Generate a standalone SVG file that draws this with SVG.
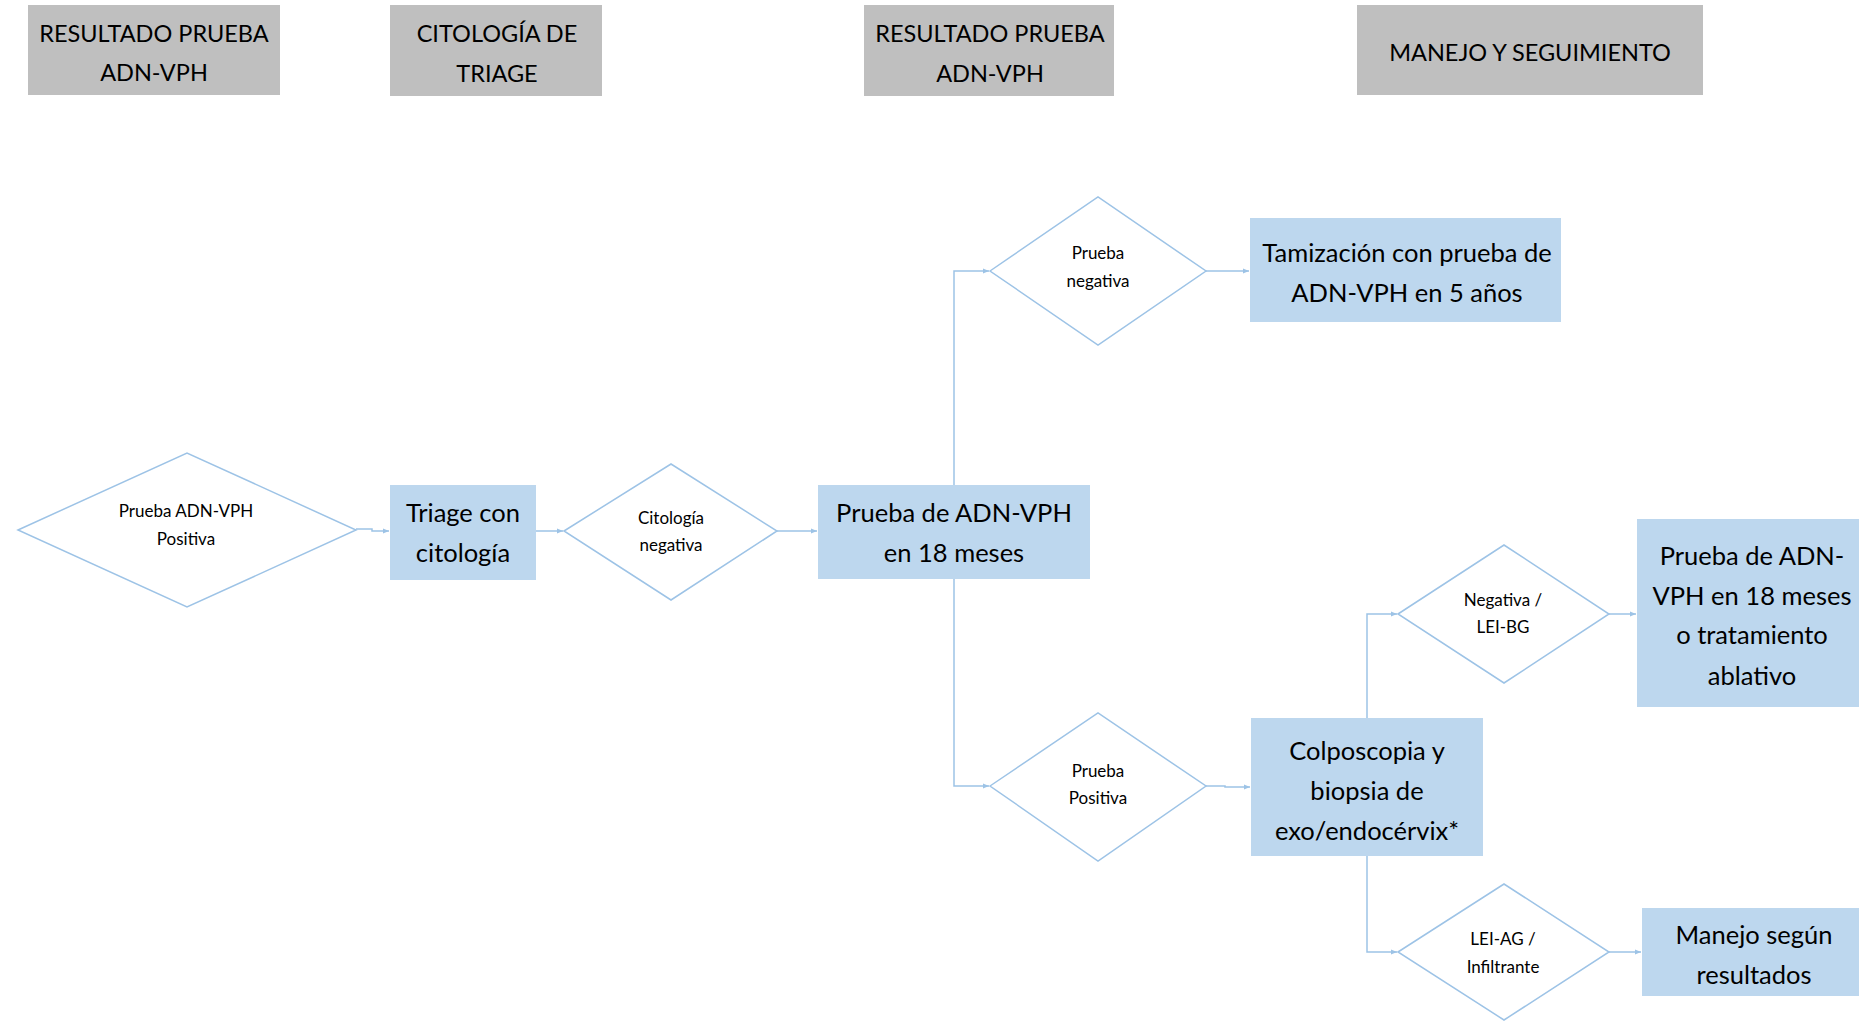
<svg xmlns="http://www.w3.org/2000/svg" width="1859" height="1021" viewBox="0 0 1859 1021">
<style>
.hdr{fill:#BFBFBF}
.box{fill:#BDD7EE}
.dia{fill:#FFFFFF;stroke:#9DC3E6;stroke-width:1.5}
.con{fill:none;stroke:#9DC3E6;stroke-width:1.5}
text{font-family:Lato,"Open Sans","Liberation Sans",sans-serif;fill:#000;text-anchor:middle}
.ht{font-size:23.5px}
.bt{font-size:25.5px}
.dt{font-size:17px}
</style>
<defs>
<marker id="ah" viewBox="0 0 10 10" refX="10" refY="5" markerWidth="6" markerHeight="6" orient="auto" markerUnits="userSpaceOnUse">
<path d="M0,1 L10,5 L0,9 z" fill="#9DC3E6"/>
</marker>
</defs>
<rect width="1859" height="1021" fill="#FFFFFF"/>

<g id="h1"><rect class="hdr" x="28" y="5" width="252" height="90"/><text class="ht" x="154" y="42">RESULTADO PRUEBA</text><text class="ht" x="154" y="81">ADN-VPH</text></g>
<g id="h2"><rect class="hdr" x="390" y="5" width="212" height="91"/><text class="ht" x="497" y="42">CITOLOGÍA DE</text><text class="ht" x="497" y="82">TRIAGE</text></g>
<g id="h3"><rect class="hdr" x="864" y="5" width="250" height="91"/><text class="ht" x="990" y="42">RESULTADO PRUEBA</text><text class="ht" x="990" y="82">ADN-VPH</text></g>
<g id="h4"><rect class="hdr" x="1357" y="5" width="346" height="90"/><text class="ht" x="1530" y="61">MANEJO Y SEGUIMIENTO</text></g>

<g id="connectors">
<path class="con" d="M356,529 H372 V531 H389" marker-end="url(#ah)"/>
<path class="con" d="M536,531 H563" marker-end="url(#ah)"/>
<path class="con" d="M777,531 H817" marker-end="url(#ah)"/>
<path class="con" d="M954,485 V271 H989" marker-end="url(#ah)"/>
<path class="con" d="M954,579 V786 H989" marker-end="url(#ah)"/>
<path class="con" d="M1206,271 H1249" marker-end="url(#ah)"/>
<path class="con" d="M1206,786 H1225 V787 H1250" marker-end="url(#ah)"/>
<path class="con" d="M1367,718 V614 H1397" marker-end="url(#ah)"/>
<path class="con" d="M1367,856 V952 H1397" marker-end="url(#ah)"/>
<path class="con" d="M1609,614 H1636" marker-end="url(#ah)"/>
<path class="con" d="M1609,952 H1641" marker-end="url(#ah)"/>
</g>

<g id="d1"><polygon class="dia" points="18,530 187,453 356,530 187,607"/><text class="dt" x="186" y="517">Prueba ADN-VPH</text><text class="dt" x="186" y="545">Positiva</text></g>
<g id="n_triage"><rect class="box" x="390" y="485" width="146" height="95"/><text class="bt" x="463" y="522">Triage con</text><text class="bt" x="463" y="562">citología</text></g>
<g id="d2"><polygon class="dia" points="564,531 671,464 777,531 671,600"/><text class="dt" x="671" y="524">Citología</text><text class="dt" x="671" y="551">negativa</text></g>
<g id="n_18m"><rect class="box" x="818" y="485" width="272" height="94"/><text class="bt" x="954" y="522">Prueba de ADN-VPH</text><text class="bt" x="954" y="562">en 18 meses</text></g>
<g id="d3"><polygon class="dia" points="990,271 1098,197 1206,271 1098,345"/><text class="dt" x="1098" y="259">Prueba</text><text class="dt" x="1098" y="287">negativa</text></g>
<g id="n_tam"><rect class="box" x="1250" y="218" width="311" height="104"/><text class="bt" x="1407" y="262">Tamización con prueba de</text><text class="bt" x="1407" y="302">ADN-VPH en 5 años</text></g>
<g id="d4"><polygon class="dia" points="990,786 1098,713 1206,786 1098,861"/><text class="dt" x="1098" y="777">Prueba</text><text class="dt" x="1098" y="804">Positiva</text></g>
<g id="n_colpo"><rect class="box" x="1251" y="718" width="232" height="138"/><text class="bt" x="1367" y="760">Colposcopia y</text><text class="bt" x="1367" y="800">biopsia de</text><text class="bt" x="1367" y="840">exo/endocérvix*</text></g>
<g id="d5"><polygon class="dia" points="1398,614 1504,545 1609,614 1504,683"/><text class="dt" x="1503" y="606">Negativa /</text><text class="dt" x="1503" y="633">LEI-BG</text></g>
<g id="n_abl"><rect class="box" x="1637" y="519" width="235" height="188"/><text class="bt" x="1752" y="565">Prueba de ADN-</text><text class="bt" x="1752" y="605">VPH en 18 meses</text><text class="bt" x="1752" y="644">o tratamiento</text><text class="bt" x="1752" y="685">ablativo</text></g>
<g id="d6"><polygon class="dia" points="1398,952 1504,884 1609,952 1504,1020"/><text class="dt" x="1503" y="945">LEI-AG /</text><text class="dt" x="1503" y="973">Infiltrante</text></g>
<g id="n_man"><rect class="box" x="1642" y="908" width="230" height="88"/><text class="bt" x="1754" y="944">Manejo según</text><text class="bt" x="1754" y="984">resultados</text></g>
</svg>
